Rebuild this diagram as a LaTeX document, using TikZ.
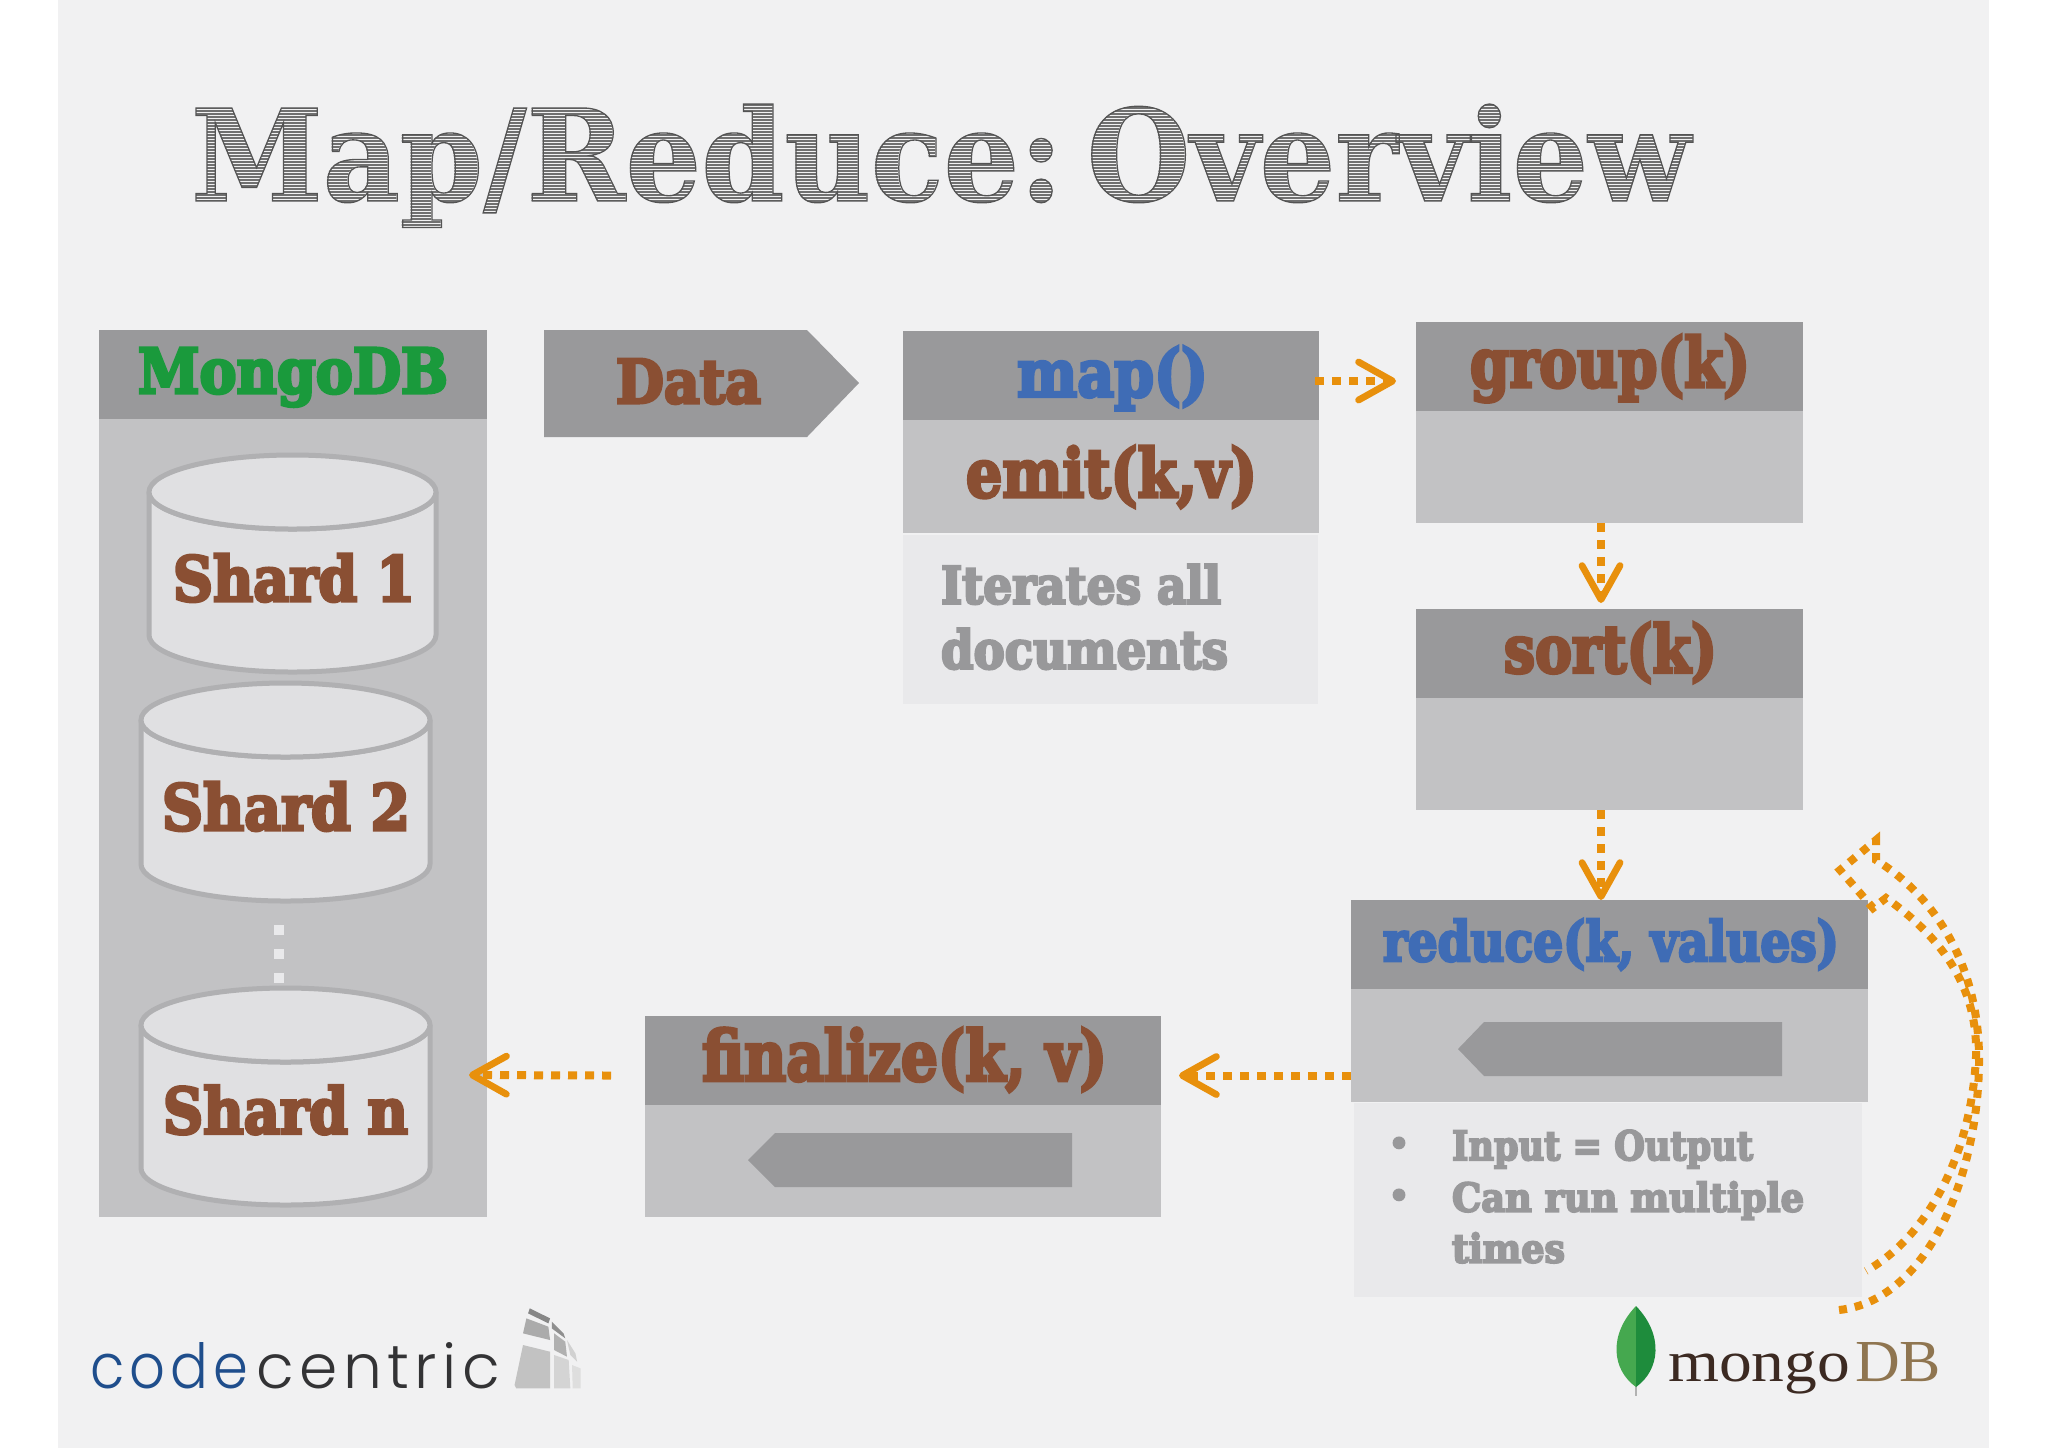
\documentclass[tikz,border=0pt]{standalone}
\usepackage{fontspec}
\usepackage{graphicx}
\usetikzlibrary{arrows.meta,fit}
\newfontfamily\slab[FakeBold=5]{DejaVu Serif Bold}
\newfontfamily\titlefont{DejaVu Serif Bold}
\newfontfamily\logoserif{Liberation Serif}
\newfontfamily\logosans[LetterSpace=9]{Poppins Light}
\definecolor{paper}{HTML}{F1F1F2}
\definecolor{hdrc}{HTML}{99999B}
\definecolor{bodyc}{HTML}{C2C2C4}
\definecolor{notec}{HTML}{E9E9EB}
\definecolor{brownc}{HTML}{8A4F33}
\definecolor{bluec}{HTML}{3F6CB5}
\definecolor{greenc}{HTML}{1A9A3C}
\definecolor{grayt}{HTML}{98989A}
\definecolor{orangec}{HTML}{E8900C}
\definecolor{cylline}{HTML}{B0B0B2}
\definecolor{cylfill}{HTML}{E0E0E2}
\definecolor{ccblue}{HTML}{1F4E8C}
\definecolor{ccdark}{HTML}{333335}
\definecolor{leafl}{HTML}{45A84F}
\definecolor{leafr}{HTML}{1E8C3C}
\definecolor{mgdark}{HTML}{3C2A22}
\definecolor{mgtan}{HTML}{8F7550}
\tikzset{
  pane/.style={inner sep=0pt,outer sep=0pt,minimum size=0pt,draw=none},
  hdr/.style={pane,fill=hdrc},
  bodybox/.style={pane,fill=bodyc},
  notebox/.style={pane,fill=notec},
  txt/.style={anchor=base west,inner sep=0pt,outer sep=0pt},
  flow/.style={draw=orangec,line width=4pt,dash pattern=on 4.5pt off 4pt,
    -{Straight Barb[length=17pt,width=19pt,line width=3.4pt,round]}},
  loopline/.style={draw=orangec,line width=4pt,dash pattern=on 4pt off 4pt},
  cyl/.style={draw=cylline,fill=cylfill,line width=2.5pt},
}
% name x baseline width height colour text
\newcommand{\lbl}[7]{\node[txt,text=#6] (#1) at (#2,#3)
  {\resizebox{\dimexpr#4pt/2\relax}{\dimexpr#5pt/2\relax}{\fontsize{40}{48}\selectfont\slab #7}};}
\newcommand{\cylinder}[5]{% name x1 x2 top bottom
  \pgfmathsetmacro\cx{(#2+#3)/2}\pgfmathsetmacro\rx{(#3-#2)/2}
  \pgfmathsetmacro\cy{#4+37}\pgfmathsetmacro\by{#5-37}
  \path[cyl] (#2,\cy) -- (#2,\by) arc[start angle=180,end angle=0,x radius=\rx,y radius=37] -- (#3,\cy)
    arc[start angle=0,end angle=180,x radius=\rx,y radius=37] -- cycle;
  \path[cyl] (\cx,\cy) ellipse[x radius=\rx,y radius=37];
  \coordinate (#1) at (\cx,\cy);}
\newcommand{\titletext}{Map/Reduce:\hspace{0.2em}Overview}
\begin{document}
\begin{tikzpicture}[x=0.5pt,y=-0.5pt]
\useasboundingbox (0,0) rectangle (2048,1448);
\fill[white] (0,0) rectangle (2048,1448);
\fill[paper] (58,0) rectangle (1989,1448);

% title
\node[txt,text=black!56] (titlefill) at (191,201)
  {\resizebox{750pt}{48.5pt}{\fontsize{40}{48}\selectfont\titlefont\titletext}};
\foreach \yy in {100,103,...,232} \draw[paper,line width=0.5pt] (185,\yy) -- (1700,\yy);
\node[txt,text=black!70] (titleline) at (191,201)
  {\resizebox{750pt}{48.5pt}{\fontsize{40}{48}\selectfont\titlefont\special{pdf:code 1 Tr 0.42 w 0.33 0.33 0.33 RG}\titletext\special{pdf:code 0 Tr}}};

% MongoDB panel
\node[bodybox,fit={(99,419)(487,1217)}] (mongoB) {};
\node[hdr,fit={(99,330)(487,419)}] (mongoH) {};
\lbl{mongoT}{138}{393}{310}{45}{greenc}{MongoDB}
\cylinder{s1}{149}{436}{455}{672}
\cylinder{s2}{141}{430}{683}{901}
\coordinate (dotA) at (279,925);
\coordinate (dotB) at (279,985);
\draw[notec,line width=5pt,dash pattern=on 5pt off 7pt] (dotA) -- (dotB);
\cylinder{s3}{141}{430}{988}{1205}
\lbl{s1t}{173}{601}{242}{47}{brownc}{Shard 1}
\lbl{s2t}{162}{830}{248}{48}{brownc}{Shard 2}
\lbl{s3t}{163}{1133.5}{245}{48}{brownc}{Shard n}

% Data
\fill[hdrc] (544,330) -- (807,330) -- (859,383) -- (807,437) -- (544,437) -- cycle;
\lbl{dataT}{616}{403}{145}{44}{brownc}{Data}

% map
\node[bodybox,fit={(903,420)(1319,533)}] (mapB) {};
\node[hdr,fit={(903,331)(1319,420)}] (mapH) {};
\node[notebox,fit={(903,535)(1318,704)}] (mapN) {};
\lbl{mapT}{1017}{396.5}{191}{50}{bluec}{map()}
\lbl{emitT}{966}{497}{291}{51}{brownc}{emit(k,v)}
\lbl{n1}{941}{603.5}{280}{39}{grayt}{Iterates all}
\lbl{n2}{941}{668.5}{287}{40}{grayt}{documents}

% group, sort
\node[bodybox,fit={(1416,411)(1803,523)}] (groupB) {};
\node[hdr,fit={(1416,322)(1803,411)}] (groupH) {};
\lbl{groupT}{1470}{387}{280}{52}{brownc}{group(k)}
\node[bodybox,fit={(1416,698)(1803,810)}] (sortB) {};
\node[hdr,fit={(1416,609)(1803,698)}] (sortH) {};
\lbl{sortT}{1504}{672.5}{213}{50}{brownc}{sort(k)}

% reduce
\node[bodybox,fit={(1351,989)(1868,1102)}] (redB) {};
\node[hdr,fit={(1351,900)(1868,989)}] (redH) {};
\fill[hdrc] (1458,1049) -- (1484,1022) -- (1782,1022) -- (1782,1076) -- (1484,1076) -- cycle;
\lbl{redT}{1383}{961}{456}{42}{bluec}{reduce(k, values)}
\node[notebox,fit={(1354,1103)(1862,1297)}] (redN) {};
\node[anchor=center,inner sep=0pt,text=grayt,font=\fontsize{16}{16}\selectfont\slab] (b1) at (1399,1146) {•};
\node[anchor=center,inner sep=0pt,text=grayt,font=\fontsize{16}{16}\selectfont\slab] (b2) at (1399,1198) {•};
\lbl{i1}{1452}{1160}{301}{30}{grayt}{Input = Output}
\lbl{i2}{1452}{1211.5}{352}{30}{grayt}{Can run multiple}
\lbl{i3}{1452}{1262.5}{113}{30}{grayt}{times}

% finalize
\node[bodybox,fit={(645,1105)(1161,1217)}] (finB) {};
\node[hdr,fit={(645,1016)(1161,1105)}] (finH) {};
\fill[hdrc] (748,1160) -- (775,1133) -- (1072,1133) -- (1072,1187) -- (775,1187) -- cycle;
\lbl{finT}{702}{1080.5}{405}{52.6}{brownc}{finalize(k, v)}

% connectors
\draw[flow] ([shift={(-4,5.5)}]mapH.east) -- ([shift={(-20,14.5)}]groupH.west);
\draw[flow] ([shift={(-8.5,0)}]groupB.south) -- ([shift={(-8.5,-6)}]sortH.north);
\draw[flow] ([shift={(-8.5,0)}]sortB.south) -- ([shift={(-8.5,0)}]redH.north);
\draw[flow] ([shift={(0,30)}]redB.west) -- ([shift={(18,15)}]finH.east);
\draw[flow] ([shift={(-34,15)}]finH.west) -- ([shift={(-18,257)}]mongoB.east);

% loop arrow
\coordinate (loA) at (1839,1310);
\coordinate (loB) at (1979,1056);
\coordinate (loC) at (1876,860);
\coordinate (liA) at (1866,1271);
\coordinate (liB) at (1976,1056);
\coordinate (liC) at (1886,898);
\draw[loopline] (loA) .. controls (1930,1300) and (1980,1170) .. (loB)
  .. controls (1978,970) and (1940,900) .. (loC) -- (1876,840) -- (1840,870) -- (1873,908) -- (liC)
  .. controls (1945,940) and (1978,990) .. (liB) .. controls (1972,1150) and (1930,1235) .. (liA);

% mongoDB logo
\draw[gray!60,line width=1pt] (1636,1380) -- (1636,1396);
\fill[leafl] (1636,1306) .. controls (1608,1335) and (1612,1370) .. (1636,1387) -- cycle;
\fill[leafr] (1636,1306) .. controls (1664,1335) and (1660,1370) .. (1636,1387) -- cycle;
\node[txt,text=mgdark] (logoM) at (1668,1381)
  {\resizebox{91pt}{15pt}{\fontsize{40}{48}\selectfont\logoserif mongo}};
\node[txt,text=mgtan] (logoD) at (1855,1381)
  {\resizebox{43pt}{19.5pt}{\fontsize{40}{48}\selectfont\logoserif DB}};

% codecentric logo
\node[txt,text=ccblue] (ccA) at (90,1388)
  {\resizebox{79pt}{23pt}{\fontsize{40}{48}\selectfont\logosans code}};
\node[txt,text=ccdark] (ccB) at (256,1388)
  {\resizebox{122pt}{23pt}{\fontsize{40}{48}\selectfont\logosans centric}};
\begin{scope}[shift={(70,1290)},x=0.16903pt,y=-0.16667pt]
\fill[black!47] (1360,55) -- (1420,85) -- (1415,100) -- (1355,70) -- cycle;
\fill[black!33] (1350,85) -- (1415,110) -- (1420,150) -- (1340,130) -- cycle;
\fill[black!44] (1425,95) -- (1460,130) -- (1465,145) -- (1425,115) -- cycle;
\fill[black!31] (1432,130) -- (1465,155) -- (1470,200) -- (1432,180) -- cycle;
\fill[black!18] (1470,150) -- (1495,190) -- (1500,215) -- (1480,195) -- cycle;
\fill[black!24] (1340,165) -- (1420,185) -- (1420,295) -- (1320,295) -- (1315,285) -- cycle;
\fill[black!17] (1432,195) -- (1475,210) -- (1480,295) -- (1432,295) -- cycle;
\fill[black!13] (1485,225) -- (1510,235) -- (1510,295) -- (1487,295) -- cycle;
\end{scope}
\end{tikzpicture}
\end{document}
